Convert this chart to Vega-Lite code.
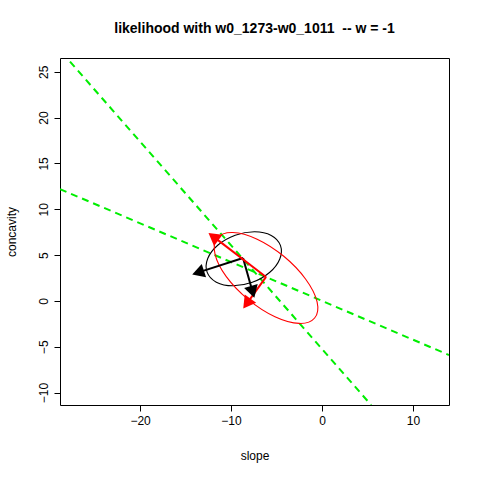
{
  "$schema": "https://vega.github.io/schema/vega-lite/v6.json",
  "width": 389, "height": 347,
  "autosize": "none",
  "padding": {"left": 60, "top": 58, "right": 31, "bottom": 75},
  "background": "white",
  "title": {"text": "likelihood with w0_1273-w0_1011 \u00a0-- w = -1", "font": "Liberation Sans", "fontSize": 14, "fontWeight": "bold", "offset": 22},
  "config": {
    "view": {"stroke": "black", "strokeWidth": 1},
    "axis": {"domain": false, "grid": false, "tickColor": "black", "tickSize": 6, "labelFont": "Liberation Sans", "labelFontSize": 12, "labelColor": "black", "titleFont": "Liberation Sans", "titleFontSize": 12, "titleFontWeight": "normal", "titleColor": "black", "labelPadding": 4}
  },
  "datasets": {
    "green": [
      {"line": "a", "x": -27.7, "y": 26.1}, {"line": "a", "x": 5.4, "y": -11.35},
      {"line": "b", "x": -28.8, "y": 12.2}, {"line": "b", "x": 13.96, "y": -5.9}
    ],
    "ell": [
      {"e": "black", "i": 0, "x": -4.57, "y": 6.06}, {"e": "black", "i": 1, "x": -4.64, "y": 4.58},
      {"e": "black", "i": 2, "x": -5.77, "y": 3.10}, {"e": "black", "i": 3, "x": -7.66, "y": 2.03},
      {"e": "black", "i": 4, "x": -9.80, "y": 1.65}, {"e": "black", "i": 5, "x": -11.62, "y": 2.05},
      {"e": "black", "i": 6, "x": -12.63, "y": 3.14}, {"e": "black", "i": 7, "x": -12.56, "y": 4.63},
      {"e": "black", "i": 8, "x": -11.43, "y": 6.10}, {"e": "black", "i": 9, "x": -9.54, "y": 7.17},
      {"e": "black", "i": 10, "x": -7.40, "y": 7.55}, {"e": "black", "i": 11, "x": -5.58, "y": 7.15},
      {"e": "red", "i": 0, "x": -0.81, "y": -1.86}, {"e": "red", "i": 1, "x": -0.54, "y": -0.09},
      {"e": "red", "i": 2, "x": -1.79, "y": 2.37}, {"e": "red", "i": 3, "x": -4.20, "y": 4.87},
      {"e": "red", "i": 4, "x": -7.13, "y": 6.74}, {"e": "red", "i": 5, "x": -9.80, "y": 7.47},
      {"e": "red", "i": 6, "x": -11.50, "y": 6.88}, {"e": "red", "i": 7, "x": -11.76, "y": 5.11},
      {"e": "red", "i": 8, "x": -10.52, "y": 2.65}, {"e": "red", "i": 9, "x": -8.10, "y": 0.15},
      {"e": "red", "i": 10, "x": -5.17, "y": -1.72}, {"e": "red", "i": 11, "x": -2.50, "y": -2.45}
    ],
    "arrows": [
      {"c": "black", "x0": -8.68, "y0": 4.69, "x": -13.41, "y": 3.17, "dir": 252},
      {"c": "black", "x0": -8.68, "y0": 4.69, "x": -7.69, "y": 1.20, "dir": 164},
      {"c": "red", "x0": -6.15, "y0": 2.62, "x": -11.76, "y": 6.88, "dir": 307},
      {"c": "red", "x0": -6.15, "y0": 2.62, "x": -8.13, "y": -0.11, "dir": 216}
    ]
  },
  "layer": [
    {
      "data": {"name": "green"},
      "mark": {"type": "line", "color": "#00ee00", "strokeWidth": 2, "strokeDash": [7, 5], "clip": true},
      "encoding": {
        "x": {"field": "x", "type": "quantitative", "scale": {"domain": [-28.8, 13.96], "nice": false, "zero": false},
              "axis": {"values": [-20, -10, 0, 10], "title": "slope", "titlePadding": 24}},
        "y": {"field": "y", "type": "quantitative", "scale": {"domain": [-11.35, 26.5], "nice": false, "zero": false},
              "axis": {"values": [-10, -5, 0, 5, 10, 15, 20, 25], "title": "concavity", "labelAngle": -90, "labelAlign": "center", "labelBaseline": "bottom", "titlePadding": 19}},
        "detail": {"field": "line"}
      }
    },
    {
      "data": {"name": "ell"},
      "mark": {"type": "line", "interpolate": "cardinal-closed", "strokeWidth": 1.1},
      "encoding": {
        "x": {"field": "x", "type": "quantitative"},
        "y": {"field": "y", "type": "quantitative"},
        "order": {"field": "i"},
        "color": {"field": "e", "type": "nominal", "scale": {"domain": ["black", "red"], "range": ["black", "red"]}, "legend": null}
      }
    },
    {
      "data": {"name": "arrows"},
      "mark": {"type": "rule", "strokeWidth": 2},
      "encoding": {
        "x": {"field": "x0", "type": "quantitative"},
        "y": {"field": "y0", "type": "quantitative"},
        "x2": {"field": "x"},
        "y2": {"field": "y"},
        "color": {"field": "c", "type": "nominal", "scale": {"domain": ["black", "red"], "range": ["black", "red"]}, "legend": null}
      }
    },
    {
      "data": {"name": "arrows"},
      "mark": {"type": "point", "shape": "triangle", "filled": true, "opacity": 1, "size": 200},
      "encoding": {
        "x": {"field": "x", "type": "quantitative"},
        "y": {"field": "y", "type": "quantitative"},
        "angle": {"field": "dir", "type": "quantitative", "scale": null},
        "color": {"field": "c", "type": "nominal", "scale": {"domain": ["black", "red"], "range": ["black", "red"]}, "legend": null}
      }
    }
  ]
}
